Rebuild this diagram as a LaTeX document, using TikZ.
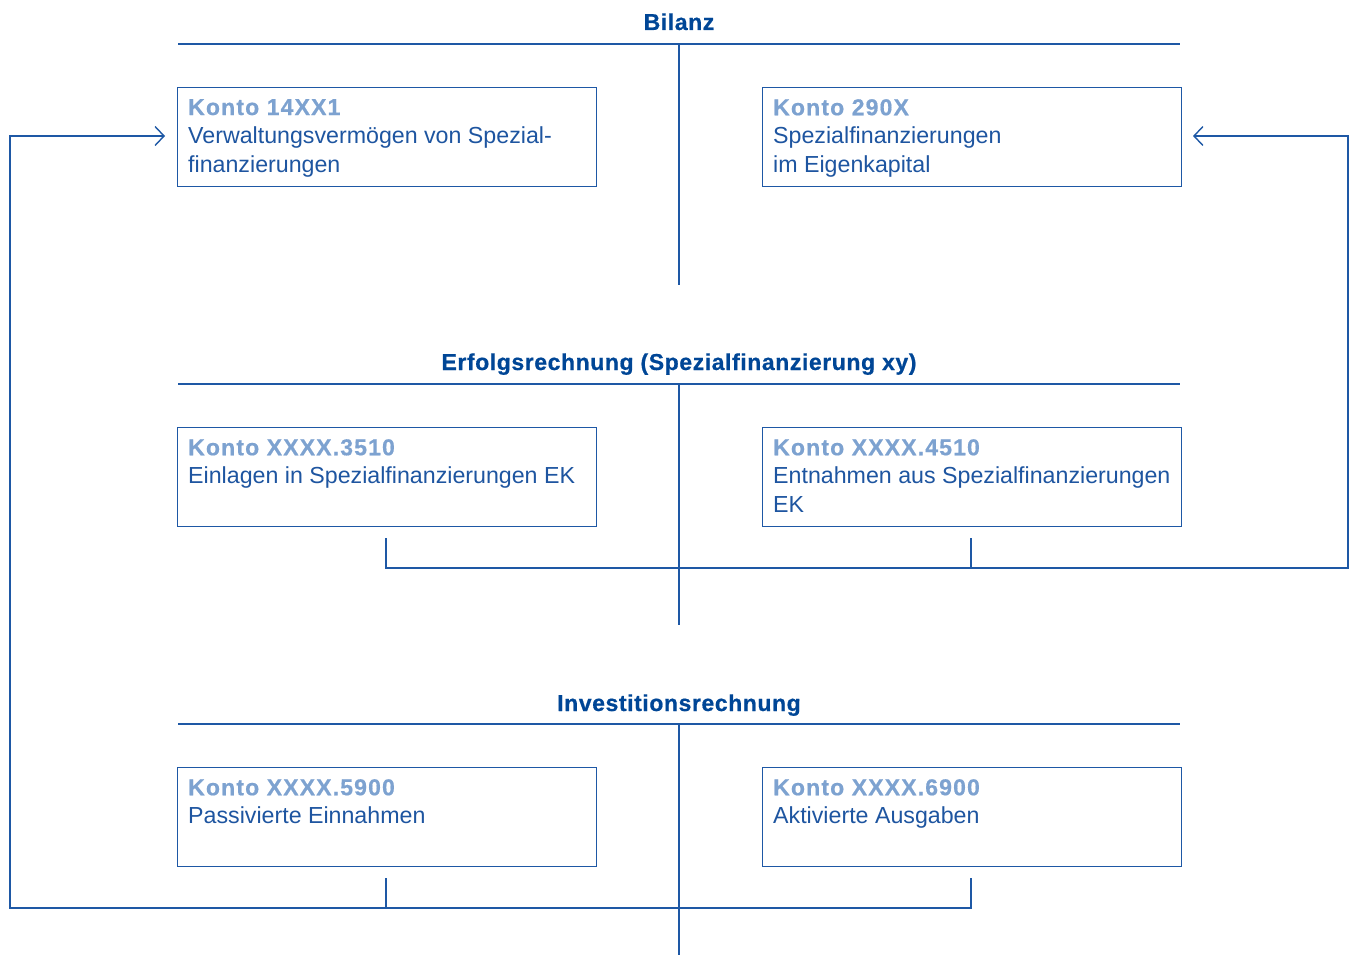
\documentclass[tikz,border=0pt]{standalone}
\usepackage{fontspec}
\setmainfont{Liberation Sans}
\usetikzlibrary{arrows.meta}

\definecolor{headblue}{RGB}{0,70,150}
\definecolor{lineblue}{RGB}{30,88,165}
\definecolor{textblue}{RGB}{30,85,160}
\definecolor{kontoblue}{RGB}{125,162,208}

\newcommand{\konto}[1]{{\fontsize{23}{28.5}\selectfont\bfseries\addfontfeatures{LetterSpace=5,FakeBold=0.6}\color{kontoblue}#1}}

\begin{document}
\begin{tikzpicture}[x=1pt, y=-1pt,
    line/.style={lineblue, line width=1.4pt},
    arr/.style={line, -{Straight Barb[length=9pt, width=19pt, line width=1.4pt]}},
    head/.style={anchor=base, inner sep=0pt, text=headblue, font=\fontsize{23}{25}\selectfont\bfseries\addfontfeatures{LetterSpace=2.5,FakeBold=0.6}},
    kbox/.style={draw=lineblue, line width=1.4pt, anchor=north west, minimum width=419pt, minimum height=99pt, inner sep=0pt},
    ktext/.style={anchor=north west, inner sep=0pt, align=left, text=textblue, font=\fontsize{23.2}{28.5}\selectfont}]

        \useasboundingbox (0,0) rectangle (1354,955);

        % Bilanz
        \node[head] (bil) at (679,30) {Bilanz};
        \coordinate (bilL) at (178,44);
        \coordinate (bilR) at (1180,44);
        \coordinate (bilT) at (679,44);
        \coordinate (bilB) at (679,285);
        \draw[line] (bilL) -- (bilR);
        \draw[line] (bilT) -- (bilB);

        \node[kbox] (k14) at (177,87) {};
        \node[ktext] (k14t) at (188,99) {\konto{Konto 14XX1}\\Verwaltungsvermögen von Spezial-\\finanzierungen};
        \node[kbox] (k29) at (762,87) {};
        \node[ktext] (k29t) at (773,99) {\konto{Konto 290X}\\Spezialfinanzierungen\\im Eigenkapital};

        % Erfolgsrechnung
        \node[head] (erf) at (679,370) {Erfolgsrechnung (Spezialfinanzierung xy)};
        \coordinate (erfL) at (178,384);
        \coordinate (erfR) at (1180,384);
        \coordinate (erfT) at (679,384);
        \coordinate (erfB) at (679,625);
        \draw[line] (erfL) -- (erfR);
        \draw[line] (erfT) -- (erfB);

        \node[kbox] (k35) at (177,427) {};
        \node[ktext] (k35t) at (188,439) {\konto{Konto XXXX.3510}\\Einlagen in Spezialfinanzierungen EK};
        \node[kbox] (k45) at (762,427) {};
        \node[ktext] (k45t) at (773,439) {\konto{Konto XXXX.4510}\\Entnahmen aus Spezialfinanzierungen\\EK};

        % Investitionsrechnung
        \node[head] (inv) at (679,711) {Investitionsrechnung};
        \coordinate (invL) at (178,724);
        \coordinate (invR) at (1180,724);
        \coordinate (invT) at (679,724);
        \coordinate (invB) at (679,955);
        \draw[line] (invL) -- (invR);
        \draw[line] (invT) -- (invB);

        \node[kbox] (k59) at (177,767) {};
        \node[ktext] (k59t) at (188,779) {\konto{Konto XXXX.5900}\\Passivierte Einnahmen};
        \node[kbox] (k69) at (762,767) {};
        \node[ktext] (k69t) at (773,779) {\konto{Konto XXXX.6900}\\Aktivierte Ausgaben};

        % Rueckfuehrung Erfolgsrechnung -> Konto 290X
        \coordinate (er1) at (386,538);
        \coordinate (er1b) at (386,568);
        \coordinate (er2) at (971,538);
        \coordinate (er2b) at (971,568);
        \coordinate (erR) at (1348,568);
        \coordinate (erRt) at (1348,136);
        \coordinate (k29in) at (1193,136);
        \draw[line] (er2) -- (er2b);
        \draw[arr] (er1) -- (er1b) -- (erR) -- (erRt) -- (k29in);

        % Rueckfuehrung Investitionsrechnung -> Konto 14XX1
        \coordinate (in1) at (386,878);
        \coordinate (in1b) at (386,908);
        \coordinate (in2) at (971,878);
        \coordinate (in2b) at (971,908);
        \coordinate (inL) at (10,908);
        \coordinate (inLt) at (10,136);
        \coordinate (k14in) at (165,136);
        \draw[line] (in1) -- (in1b);
        \draw[arr] (in2) -- (in2b) -- (inL) -- (inLt) -- (k14in);

\end{tikzpicture}
\end{document}
